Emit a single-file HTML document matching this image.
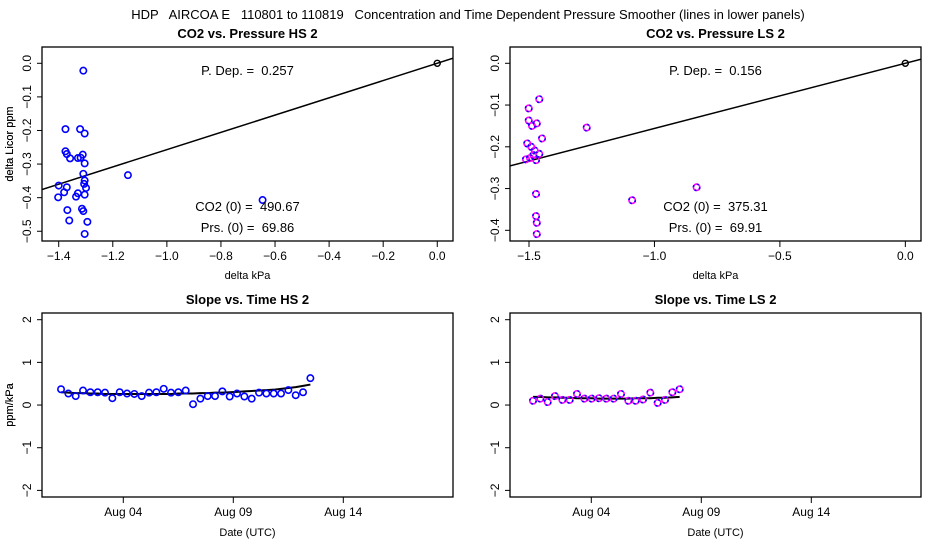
<!DOCTYPE html>
<html><head><meta charset="utf-8"><style>
body{margin:0;background:#fff;}
svg{display:block;font-family:"Liberation Sans",sans-serif;}
svg text{white-space:pre;}
</style></head><body>
<svg id="chart" width="936" height="540" viewBox="0 0 936 540">
<text x="468" y="19" text-anchor="middle" font-size="13" xml:space="preserve">HDP   AIRCOA E   110801 to 110819   Concentration and Time Dependent Pressure Smoother (lines in lower panels)</text>
</svg>
<script>
// ---- data ----
const hsPx = [-1.309,-1.375,-1.321,-1.304,-1.375,-1.370,-1.358,-1.329,-1.319,-1.311,-1.304,-1.309,-1.144,-1.400,-1.370,-1.402,-1.380,-1.329,-1.336,-1.304,-1.306,-1.299,-1.304,-1.314,-1.309,-1.368,-1.361,-1.294,-1.304,-0.646];
const hsPy = [-0.022,-0.196,-0.196,-0.209,-0.262,-0.270,-0.283,-0.282,-0.281,-0.272,-0.298,-0.329,-0.333,-0.364,-0.369,-0.399,-0.384,-0.387,-0.397,-0.349,-0.359,-0.371,-0.391,-0.433,-0.440,-0.437,-0.468,-0.472,-0.508,-0.407];
const hsSlope = 0.257;
const lsPx = [-1.459,-1.501,-1.501,-1.469,-1.488,-1.448,-1.507,-1.491,-1.477,-1.459,-1.483,-1.496,-1.512,-1.472,-1.472,-1.472,-1.469,-1.469,-1.270,-1.089,-0.832];
const lsPy = [-0.086,-0.108,-0.137,-0.144,-0.150,-0.180,-0.192,-0.200,-0.209,-0.217,-0.220,-0.227,-0.230,-0.232,-0.313,-0.366,-0.382,-0.409,-0.154,-0.328,-0.297];
const lsSlope = 0.156;
const hsTimeStart = 1.17; // day of August
const hsTimeValues = [0.37,0.27,0.21,0.34,0.30,0.30,0.29,0.16,0.30,0.27,0.26,0.21,0.29,0.30,0.38,0.29,0.30,0.34,0.02,0.15,0.21,0.21,0.32,0.20,0.27,0.20,0.15,0.29,0.27,0.27,0.27,0.35,0.23,0.30,0.63];
const hsSmooth = [0.30,0.29,0.28,0.28,0.27,0.27,0.26,0.26,0.26,0.26,0.26,0.26,0.26,0.26,0.26,0.26,0.27,0.27,0.27,0.28,0.28,0.29,0.29,0.30,0.31,0.32,0.33,0.34,0.35,0.36,0.38,0.40,0.42,0.45,0.48];
const lsTimeStart = 1.35;
const lsTimeValues = [0.10,0.15,0.07,0.21,0.12,0.12,0.26,0.15,0.15,0.16,0.15,0.15,0.26,0.10,0.10,0.13,0.29,0.05,0.12,0.30,0.37];
const lsSmooth = [0.19,0.19,0.18,0.18,0.17,0.17,0.16,0.16,0.16,0.15,0.15,0.15,0.15,0.15,0.16,0.16,0.16,0.17,0.17,0.18,0.19];
const timeStepDays = 1/3;
const dateTicks = [4,9,14];
const dateTickLabels = ["Aug 04","Aug 09","Aug 14"];
const slopeTicks = [-2,-1,0,1,2];
const hsXTicks = [-1.4,-1.2,-1.0,-0.8,-0.6,-0.4,-0.2,0.0];
const hsYTicks = [0.0,-0.1,-0.2,-0.3,-0.4,-0.5];
const lsXTicks = [-1.5,-1.0,-0.5,0.0];
const lsYTicks = [0.0,-0.1,-0.2,-0.3,-0.4];

const svg = document.getElementById('chart');
const NS = 'http://www.w3.org/2000/svg';
function el(tag, attrs, parent){const e=document.createElementNS(NS,tag);for(const k in attrs)e.setAttribute(k,attrs[k]);(parent||svg).appendChild(e);return e;}
function lin(d0,d1,r0,r1){return v=>r0+(v-d0)*(r1-r0)/(d1-d0);}

function panel(o){
  const g = el('g',{});
  
  
  const L=o.x0,R=o.x1,T=o.y0,B=o.y1;
  const sx=lin(o.dx0,o.dx1,L,R), sy=lin(o.dy0,o.dy1,B,T);
  const box=el('rect',{x:L,y:T,width:R-L,height:B-T,fill:'none',stroke:'#000','stroke-width':1.3},g);
  
  
  const t=el('text',{x:(L+R)/2,y:T-9,'text-anchor':'middle','font-size':13,'font-weight':'bold'},g);
  t.textContent=o.title;
  
  
  o.xt.forEach((v,i)=>{
    const x=sx(v);
    el('line',{x1:x,x2:x,y1:B,y2:B+6,stroke:'#000'},g);
    const tl=el('text',{x:x,y:B+19,'text-anchor':'middle','font-size':12},g);
    tl.textContent=o.xl[i];
    
    
  });
  o.yt.forEach((v,i)=>{
    const y=sy(v);
    el('line',{x1:L-5,x2:L,y1:y,y2:y,stroke:'#000'},g);
    const tl=el('text',{x:0,y:0,'text-anchor':'middle','font-size':12,transform:`translate(${L-11},${y}) rotate(-90)`},g);
    tl.textContent=o.yl[i];
    
    
  });
  const xt=el('text',{x:(L+R)/2,y:o.xtitleY,'text-anchor':'middle','font-size':11},g);
  xt.textContent=o.xtitle;
  
  
  const yt=el('text',{x:0,y:0,'text-anchor':'middle','font-size':11,transform:`translate(13,${(T+B)/2}) rotate(-90)`},g);
  yt.textContent=o.ytitle;
  
  
  const clip='c'+o.name;
  const cp=el('clipPath',{id:clip},g);el('rect',{x:L,y:T,width:R-L,height:B-T},cp);
  const pg=el('g',{'clip-path':`url(#${clip})`},g);
  return {g:pg,outer:g,sx,sy,L,R,T,B};
}
function pt(p,x,y,magenta,name){
  const c=el('circle',{cx:p.sx(x),cy:p.sy(y),r:3.2,fill:'none',stroke:magenta?'#ff00ff':'#0000ff','stroke-width':1.6},p.g);
  
  
  if(magenta){el('circle',{cx:p.sx(x),cy:p.sy(y),r:3.2,fill:'none',stroke:'#0000ff','stroke-width':1.6,'stroke-dasharray':'2 3'},p.g);}
}
function label(p,x,y,txt,name){
  const t=el('text',{x:x,y:y,'text-anchor':'middle','font-size':13},p.outer);
  t.textContent=txt;
  
  
}
function scatter(o,px,py,slope,mag,dep,co2,prs){
  const p=panel(o);
  const ln=el('line',{x1:p.sx(o.dx0),y1:p.sy(o.dx0*slope),x2:p.sx(o.dx1),y2:p.sy(o.dx1*slope),stroke:'#000','stroke-width':1.5},p.g);
  
  
  px.forEach((x,i)=>pt(p,x,py[i],mag,'data-point'));
  const o0=el('circle',{cx:p.sx(0),cy:p.sy(0),r:3,fill:'none',stroke:'#000','stroke-width':1.4},p.g);
  
  
  const cx=(p.L+p.R)/2;
  label(p,cx,75,'P. Dep. =  '+dep,'pressure-dependence-label');
  label(p,cx,211,'CO2 (0) =  '+co2,'co2-zero-label');
  label(p,cx,232,'Prs. (0) =  '+prs,'pressure-zero-label');
}
function timeP(o,start,vals,smooth,mag){
  const p=panel(o);
  const xs=vals.map((v,i)=>start+i*timeStepDays);
  const path=el('path',{d:smooth.map((v,i)=>(i?'L':'M')+p.sx(xs[i])+','+p.sy(v)).join(''),fill:'none',stroke:'#000','stroke-width':2},p.g);
  
  
  vals.forEach((v,i)=>pt(p,xs[i],v,mag,'slope-point'));
}
const fmt1=v=>(v<0?'\u2212':'')+Math.abs(v).toFixed(1);
const fmtI=v=>(v<0?'\u2212':'')+Math.abs(v);
scatter({name:'co2-vs-pressure-hs2',title:'CO2 vs. Pressure HS 2',x0:42,x1:453,y0:47,y1:241,dx0:-1.4618,dx1:0.0582,dy0:-0.529,dy1:0.0485,
  xt:hsXTicks,xl:hsXTicks.map(fmt1),yt:hsYTicks,yl:hsYTicks.map(fmt1),xtitle:'delta kPa',xtitleY:279,ytitle:'delta Licor ppm'},
  hsPx,hsPy,hsSlope,false,'0.257','490.67','69.86');
scatter({name:'co2-vs-pressure-ls2',title:'CO2 vs. Pressure LS 2',x0:510,x1:921,y0:47,y1:241,dx0:-1.5757,dx1:0.0624,dy0:-0.4256,dy1:0.039,
  xt:lsXTicks,xl:lsXTicks.map(fmt1),yt:lsYTicks,yl:lsYTicks.map(fmt1),xtitle:'delta kPa',xtitleY:279,ytitle:'delta Licor ppm'},
  lsPx,lsPy,lsSlope,true,'0.156','375.31','69.91');
const tY={y0:313,y1:497,dx0:0.305,dx1:18.986,dy0:-2.155,dy1:2.157,xt:dateTicks,xl:dateTickLabels,yt:slopeTicks,yl:slopeTicks.map(fmtI),xtitle:'Date (UTC)',xtitleY:536,ytitle:'ppm/kPa'};
timeP(Object.assign({name:'slope-vs-time-hs2',title:'Slope vs. Time HS 2',x0:42,x1:453},tY),hsTimeStart,hsTimeValues,hsSmooth,false);
timeP(Object.assign({name:'slope-vs-time-ls2',title:'Slope vs. Time LS 2',x0:510,x1:921},tY),lsTimeStart,lsTimeValues,lsSmooth,true);
</script>
</body></html>
